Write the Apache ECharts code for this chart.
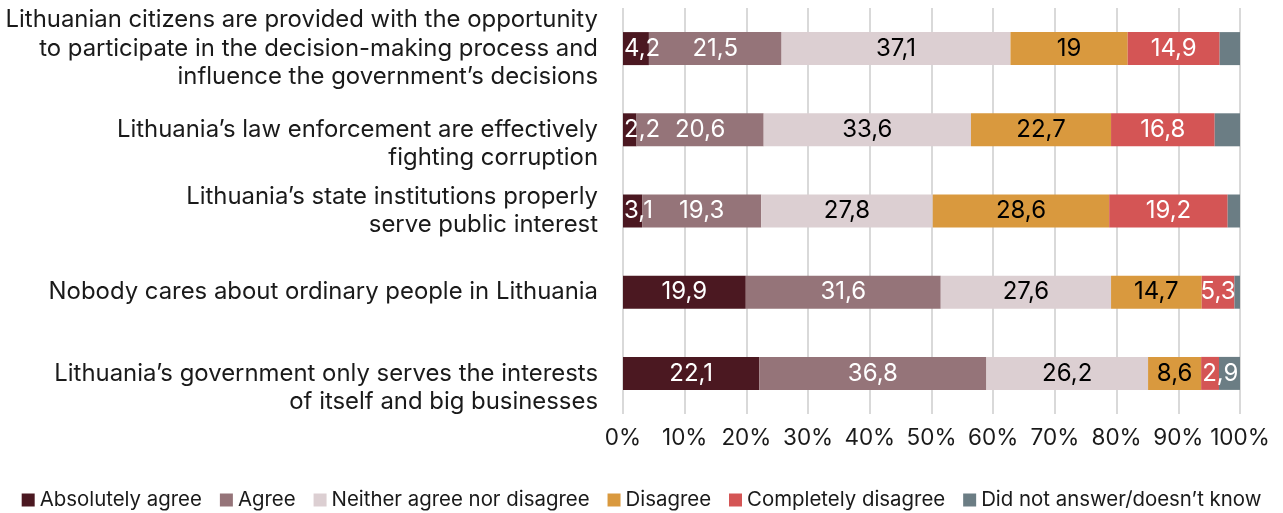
<!DOCTYPE html>
<html>
<head>
<meta charset="utf-8">
<script src="https://cdn.jsdelivr.net/npm/echarts@6/dist/echarts.min.js"></script>
<style>
  html, body { margin: 0; padding: 0; background: #ffffff; }
  #chart { width: 1283px; height: 513px; }
</style>
</head>
<body>
<div id="chart"></div>
<script>
// Survey statements (top to bottom), line breaks as laid out on the axis
const categories = [
  'Lithuanian citizens are provided with the opportunity\nto participate in the decision-making process and\ninfluence the government\u2019s decisions',
  'Lithuania\u2019s law enforcement are effectively\nfighting corruption',
  'Lithuania\u2019s state institutions properly\nserve public interest',
  'Nobody cares about ordinary people in Lithuania',
  'Lithuania\u2019s government only serves the interests\nof itself and big businesses'
];
// Labels whose first line sits level with the bar (rest hangs below)
const hangingLabels = [false, true, false, false, true];

// Share of respondents, %
const absolutelyAgree    = [4.2, 2.2, 3.1, 19.9, 22.1];
const agree              = [21.5, 20.6, 19.3, 31.6, 36.8];
const neither            = [37.1, 33.6, 27.8, 27.6, 26.2];
const disagree           = [19, 22.7, 28.6, 14.7, 8.6];
const completelyDisagree = [14.9, 16.8, 19.2, 5.3, 2.9];
const noAnswer           = [3.3, 4.1, 2.0, 0.9, 3.4];

const xTicks = [0, 10, 20, 30, 40, 50, 60, 70, 80, 90, 100];

const FONT = 'Inter, "Noto Sans", sans-serif';
const LINE_H = 28.5;
// segments narrower than their label get it anchored at the segment start
const NARROW = 5;

function commaDecimal(v) {
  return String(v).replace('.', ',');
}

function makeSeries(name, data, color, labelColor) {
  return {
    name: name,
    type: 'bar',
    stack: 'total',
    data: labelColor
      ? data.map(v => v < NARROW
          ? { value: v, label: { position: 'insideLeft', distance: 1 } }
          : v)
      : data,
    barWidth: 33,
    itemStyle: { color: color },
    label: labelColor ? {
      show: true,
      position: 'inside',
      color: labelColor,
      fontFamily: FONT,
      fontSize: 24,
      formatter: p => commaDecimal(p.value)
    } : { show: false },
    emphasis: { disabled: true }
  };
}

const chart = echarts.init(document.getElementById('chart'), null, { renderer: 'canvas' });

chart.setOption({
  animation: false,
  backgroundColor: '#ffffff',
  textStyle: { fontFamily: FONT },
  grid: { left: 623, right: 43, top: 8, bottom: 99, containLabel: false },
  legend: {
    top: 485,
    left: 'center',
    icon: 'rect',
    itemWidth: 13,
    itemHeight: 13,
    itemGap: 18,
    textStyle: { fontFamily: FONT, fontSize: 20.4, color: '#1a1a1a' },
    data: ['Absolutely agree', 'Agree', 'Neither agree nor disagree', 'Disagree',
           'Completely disagree', 'Did not answer/doesn\u2019t know']
  },
  xAxis: {
    type: 'value',
    min: xTicks[0],
    max: xTicks[xTicks.length - 1],
    interval: 10,
    axisLine: { show: false },
    axisTick: { show: false },
    splitLine: { show: true, lineStyle: { color: '#d9d9d9', width: 2 } },
    axisLabel: {
      formatter: '{value}%',
      fontFamily: FONT,
      fontSize: 22.5,
      color: '#1a1a1a',
      margin: 13
    }
  },
  yAxis: {
    type: 'category',
    inverse: true,
    data: categories,
    axisLine: { show: false },
    axisTick: { show: false },
    axisLabel: {
      interval: 0,
      fontFamily: FONT,
      fontSize: 23.9,
      lineHeight: LINE_H,
      color: '#1a1a1a',
      align: 'right',
      margin: 25,
      // a leading blank line keeps the first text line level with the bar
      formatter: (v, i) => (hangingLabels[i] ? '\n' + v : v)
    }
  },
  series: [
    makeSeries('Absolutely agree', absolutelyAgree, '#4b1821', '#ffffff'),
    makeSeries('Agree', agree, '#957479', '#ffffff'),
    makeSeries('Neither agree nor disagree', neither, '#dccfd2', '#000000'),
    makeSeries('Disagree', disagree, '#d9993e', '#000000'),
    makeSeries('Completely disagree', completelyDisagree, '#d45555', '#ffffff'),
    makeSeries('Did not answer/doesn\u2019t know', noAnswer, '#6b7d84', null)
  ]
});
</script>
</body>
</html>
